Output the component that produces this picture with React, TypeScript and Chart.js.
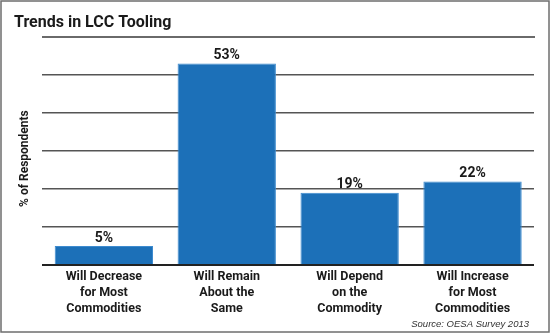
import React, { useEffect, useRef } from "react";
import { Chart, registerables } from "chart.js";

Chart.register(...registerables);

const categories: string[][] = [
  ["Will Decrease", "for Most", "Commodities"],
  ["Will Remain", "About the", "Same"],
  ["Will Depend", "on the", "Commodity"],
  ["Will Increase", "for Most", "Commodities"],
];
const values: number[] = [5, 53, 19, 22];
const titleText = "Trends in LCC Tooling";
const yTitle = "% of Respondents";
const sourceText = "Source: OESA Survey 2013";

const FONT = "Roboto, 'Liberation Sans', Arial, sans-serif";

const decor = {
  id: "decor",
  afterDraw(chart: any) {
    const ctx = chart.ctx;
    const W = chart.width;
    const H = chart.height;
    ctx.save();
    // frame
    ctx.strokeStyle = "#6e6e6e";
    ctx.lineWidth = 1.5;
    ctx.strokeRect(1, 1, W - 2, H - 2);
    // title underline
    ctx.strokeStyle = "#6a6a6a";
    ctx.lineWidth = 2;
    ctx.beginPath();
    ctx.moveTo(42, 37);
    ctx.lineTo(535, 37);
    ctx.stroke();
    // source
    ctx.fillStyle = "#333";
    ctx.font = "italic 9.5px 'Liberation Sans', Arial, sans-serif";
    ctx.textAlign = "right";
    ctx.textBaseline = "middle";
    ctx.fillText(sourceText, 529, 324);
    ctx.restore();
  },
  afterDatasetsDraw(chart: any) {
    const ctx = chart.ctx;
    const meta = chart.getDatasetMeta(0);
    ctx.save();
    ctx.fillStyle = "#1a1a1a";
    ctx.font = `bold 14px ${FONT}`;
    ctx.textAlign = "center";
    ctx.textBaseline = "bottom";
    meta.data.forEach((bar: any, i: number) => {
      ctx.fillText(values[i] + "%", bar.x, bar.y - 1);
    });
    ctx.restore();
  },
};

export default function App() {
  const ref = useRef<HTMLCanvasElement>(null);
  useEffect(() => {
    document.body.style.margin = "0";
    const chart = new Chart(ref.current!, {
      type: "bar",
      data: {
        labels: categories,
        datasets: [
          {
            data: values,
            backgroundColor: "#1c70b8",
            borderColor: "#3d8bcf",
            borderWidth: 1,
            barPercentage: 0.8,
            categoryPercentage: 1,
          },
        ],
      },
      options: {
        animation: false,
        responsive: false,
        layout: { padding: { left: 14, right: 16, top: 0, bottom: 12 } },
        plugins: {
          legend: { display: false },
          tooltip: { enabled: false },
          title: {
            display: true,
            text: titleText,
            align: "start",
            color: "#1a1a1a",
            font: { family: FONT, size: 16, weight: "bold" },
            padding: { top: 13, bottom: 20 },
          },
        },
        scales: {
          x: {
            grid: { display: false, drawTicks: false },
            border: { display: false },
            ticks: {
              color: "#1a1a1a",
              padding: 4,
              font: { family: FONT, size: 12.5, weight: "bold", lineHeight: 1.28 },
              maxRotation: 0,
              autoSkip: false,
            },
          },
          y: {
            min: 0,
            max: 56,
            afterBuildTicks: (scale: any) => {
              scale.ticks = scale.ticks.filter((t: any) => t.value % 10 === 0);
            },
            ticks: { display: false, stepSize: 10 },
            border: { display: false },
            grid: {
              drawTicks: false,
              color: (c: any) => (c.tick && c.tick.value === 0 ? "#222" : "#555"),
              lineWidth: (c: any) => (c.tick && c.tick.value === 0 ? 2 : 1.5),
            },
            title: {
              display: true,
              text: yTitle,
              color: "#1a1a1a",
              font: { family: FONT, size: 12, weight: "bold" },
              padding: { top: 4, bottom: 10 },
            },
          },
        },
      },
      plugins: [decor],
    });
    return () => chart.destroy();
  }, []);
  return <canvas ref={ref} width={550} height={333} style={{ display: "block" }} />;
}
